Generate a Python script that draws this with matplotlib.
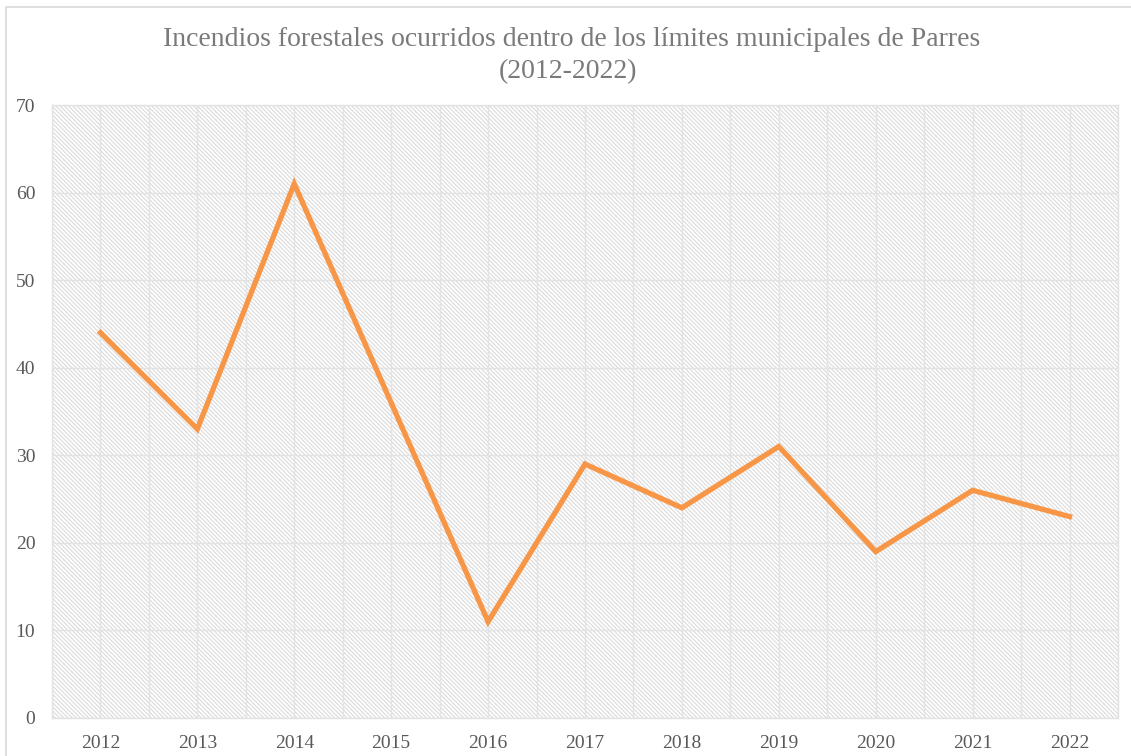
import matplotlib
matplotlib.use("Agg")
import matplotlib.pyplot as plt
from matplotlib.patches import Rectangle
from matplotlib.ticker import MultipleLocator

years = ["2012", "2013", "2014", "2015", "2016", "2017", "2018", "2019", "2020", "2021", "2022"]
incendios = [44, 33, 61, 36, 11, 29, 24, 31, 19, 26, 23]
title_lines = ["Incendios forestales ocurridos dentro de los límites municipales de Parres", "(2012-2022)"]

plt.rcParams['font.family'] = ['Liberation Serif', 'DejaVu Serif']
plt.rcParams['hatch.linewidth'] = 0.8

W, H = 1131, 756
fig = plt.figure(figsize=(W / 100, H / 100), dpi=100)
ax = fig.add_axes([52 / W, (H - 718) / H, (1118 - 52) / W, (718 - 105) / H])

# outer chart frame (partially cropped)
fig.patches.append(Rectangle((5.5 / W, -0.1), 1.2, (H - 7.5) / H + 0.1, transform=fig.transFigure,
                             fill=False, edgecolor='#d9d9d9', lw=1.2, zorder=0))

# hatched plot area
ax.set_facecolor('white')
bg = Rectangle((0, 0), 1, 1, transform=ax.transAxes, facecolor='white', edgecolor='#dadada',
               hatch='\\' * 8, lw=0, zorder=0)
ax.add_patch(bg)

x = list(range(len(years)))
ax.plot(x, incendios, color='#F79646', lw=3.8, solid_joinstyle='miter', zorder=3)

ax.set_xlim(-0.5, len(years) - 0.5)
ax.set_ylim(0, 70)
ax.set_xticks(x)
ax.set_xticklabels(years)
ax.xaxis.set_minor_locator(MultipleLocator(1, offset=0.5))
ax.yaxis.set_major_locator(MultipleLocator(10))

ax.grid(True, which='major', color='#e3e3e3', lw=1.0, zorder=1)
ax.grid(True, which='minor', axis='x', color='#e3e3e3', lw=1.0, zorder=1)
ax.set_axisbelow(True)

ax.tick_params(axis='both', which='both', length=0, labelsize=14, labelcolor='#595959')
ax.tick_params(axis='y', pad=12)
ax.tick_params(axis='x', pad=12)

for s in ax.spines.values():
    s.set_color('#e3e3e3')
    s.set_linewidth(1.0)

fig.text(572 / W, 1 - 40 / H, title_lines[0], ha='center', va='center', fontsize=20, color='#7a7a7a')
fig.text(568 / W, 1 - 72 / H, title_lines[1], ha='center', va='center', fontsize=20, color='#7a7a7a')

fig.savefig('out.png', dpi=100)
